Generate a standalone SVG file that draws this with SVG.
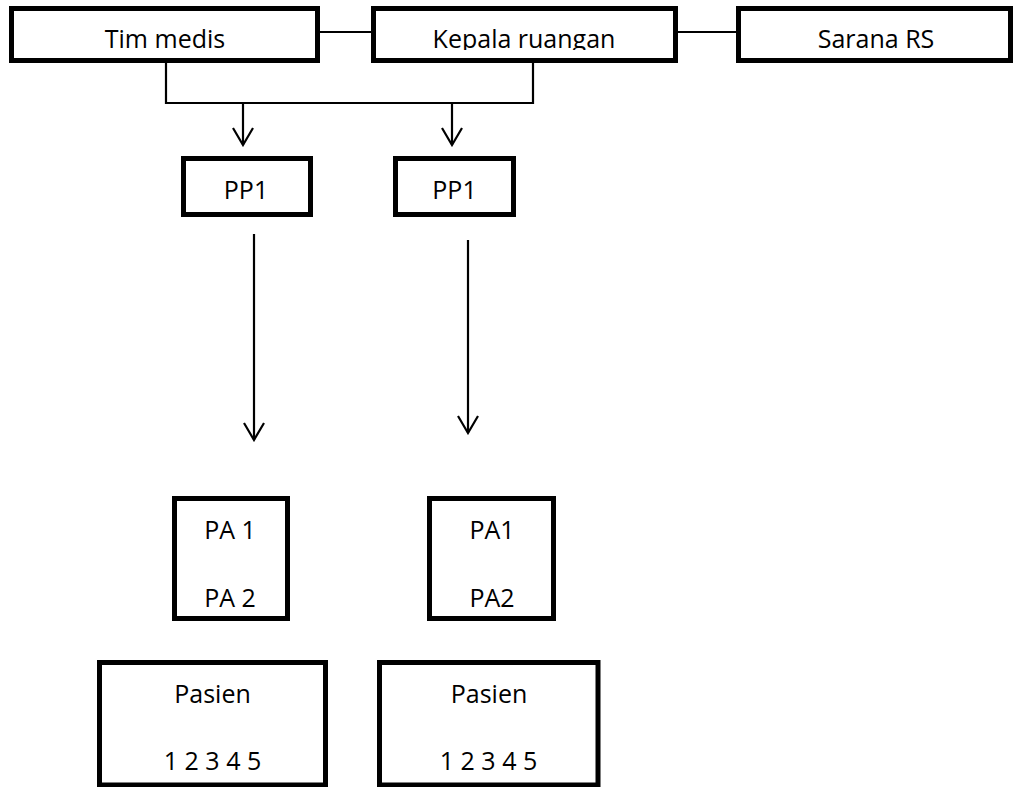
<svg xmlns="http://www.w3.org/2000/svg" width="1018" height="787" viewBox="0 0 1018 787">
  <style>
    .box { fill: #fff; stroke: #000; stroke-width: 5; }
    .lbl { font-family: "Open Sans", "Liberation Sans", sans-serif; font-size: 25px; fill: #000; text-anchor: middle; }
    .wire { fill: none; stroke: #000; stroke-width: 2.2; }
  </style>
  <defs>
    <marker id="vee" viewBox="-20 -12 22 24" refX="0" refY="0" markerWidth="22" markerHeight="24" markerUnits="userSpaceOnUse" orient="auto">
      <path d="M-17,-10 L0,0 L-17,10" fill="none" stroke="#000" stroke-width="2.2"/>
    </marker>
    <clipPath id="kepalaClip">
      <rect x="376" y="11" width="297" height="39"/>
    </clipPath>
  </defs>

  <rect width="1018" height="787" fill="#fff"/>

  <!-- connectors -->
  <g id="connectors">
    <line class="wire" x1="320" y1="32" x2="371" y2="32"/>
    <line class="wire" x1="678" y1="32" x2="736" y2="32"/>
    <polyline class="wire" points="166,63 166,103 533,103 533,63"/>
    <line class="wire" x1="243" y1="103" x2="243" y2="145" marker-end="url(#vee)"/>
    <line class="wire" x1="452" y1="103" x2="452" y2="145" marker-end="url(#vee)"/>
    <line class="wire" x1="254" y1="234" x2="254" y2="440" marker-end="url(#vee)"/>
    <line class="wire" x1="468" y1="240" x2="468" y2="433" marker-end="url(#vee)"/>
  </g>

  <!-- top row -->
  <g id="tim-medis">
    <rect class="box" x="11.5" y="8.5" width="306" height="52"/>
    <text class="lbl" x="165" y="48">Tim medis</text>
  </g>
  <g id="kepala-ruangan">
    <rect class="box" x="373.5" y="8.5" width="302" height="52"/>
    <text class="lbl" x="524" y="48" clip-path="url(#kepalaClip)">Kepala ruangan</text>
  </g>
  <g id="sarana-rs">
    <rect class="box" x="738.5" y="8.5" width="272" height="52"/>
    <text class="lbl" x="876" y="48">Sarana RS</text>
  </g>

  <!-- PP1 boxes -->
  <g id="pp1-left">
    <rect class="box" x="183.5" y="158.5" width="127" height="56"/>
    <text class="lbl" x="246" y="199">PP1</text>
  </g>
  <g id="pp1-right">
    <rect class="box" x="395.5" y="158.5" width="118" height="56"/>
    <text class="lbl" x="454.5" y="199">PP1</text>
  </g>

  <!-- PA boxes -->
  <g id="pa-left">
    <rect class="box" x="174.5" y="498.5" width="113" height="120"/>
    <text class="lbl" x="230" y="539">PA 1</text>
    <text class="lbl" x="230" y="607">PA 2</text>
  </g>
  <g id="pa-right">
    <rect class="box" x="429.5" y="498.5" width="124" height="120"/>
    <text class="lbl" x="492" y="539">PA1</text>
    <text class="lbl" x="492" y="607">PA2</text>
  </g>

  <!-- Pasien boxes -->
  <g id="pasien-left">
    <rect class="box" x="99.5" y="662.5" width="226" height="122.5"/>
    <text class="lbl" x="212.5" y="703">Pasien</text>
    <text class="lbl" x="212.5" y="770">1 2 3 4 5</text>
  </g>
  <g id="pasien-right">
    <rect class="box" x="379.5" y="662.5" width="218.5" height="122.5"/>
    <text class="lbl" x="489" y="703">Pasien</text>
    <text class="lbl" x="488.5" y="770">1 2 3 4 5</text>
  </g>
</svg>
